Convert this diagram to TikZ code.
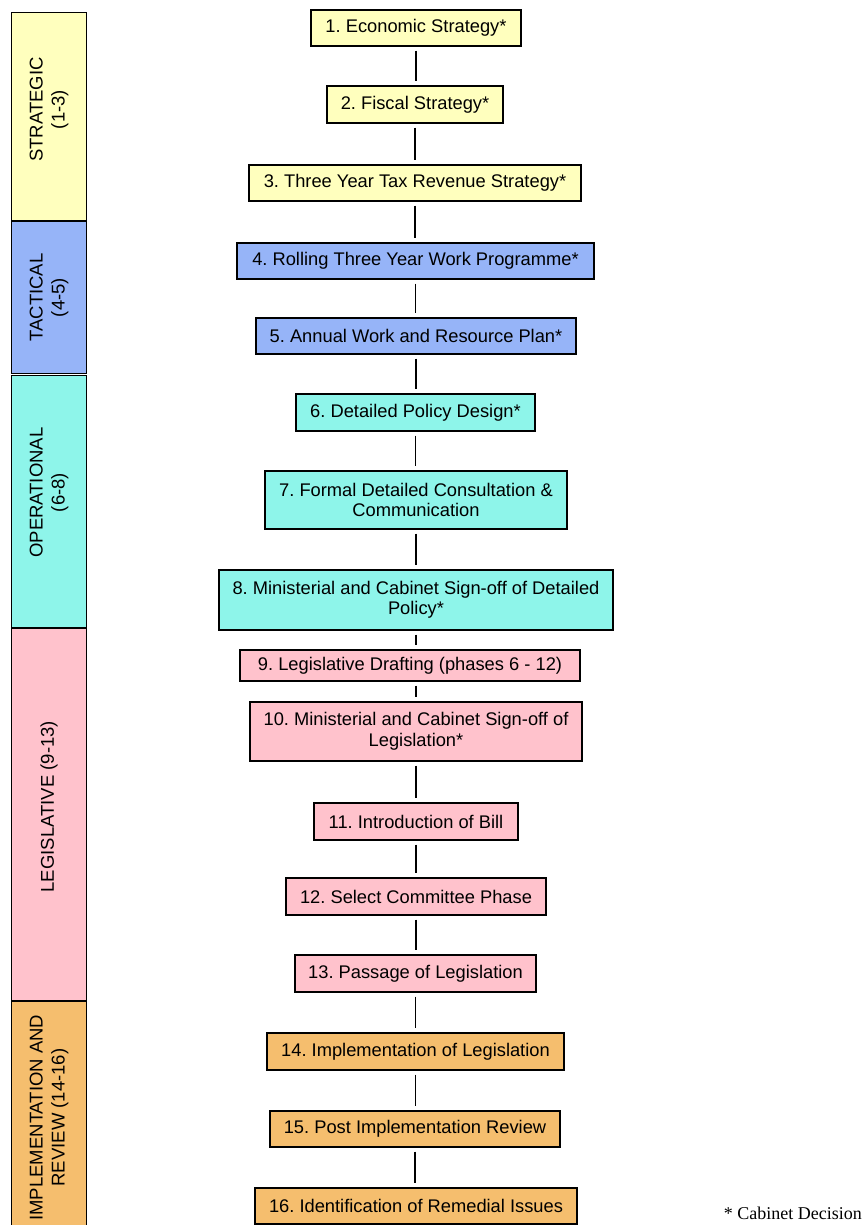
\documentclass[tikz,border=0pt]{standalone}
\usepackage{fontspec}
\setmainfont{Liberation Sans}
\newfontfamily\serifcap{Liberation Serif}
\usetikzlibrary{calc}
\frenchspacing
\definecolor{cYel}{RGB}{255,255,190}
\definecolor{cBlu}{RGB}{150,180,248}
\definecolor{cCya}{RGB}{142,245,234}
\definecolor{cPnk}{RGB}{255,194,204}
\definecolor{cOrg}{RGB}{245,190,110}
\begin{document}
\begin{tikzpicture}[x=1pt,y=-1pt,
  box/.style={draw=black, line width=1.2pt, align=center, inner sep=0pt, font=\fontsize{18.3}{20.5}\selectfont},
  band/.style={draw=black, line width=1.2pt, minimum width=75pt, inner sep=0pt, anchor=north west},
  bandtxt/.style={rotate=90, align=center, font=\fontsize{18.5}{22}\selectfont},
  link/.style={line width=1.2pt, shorten >=4pt, shorten <=4pt}]
\useasboundingbox (0,0) rectangle (866,1225);
% side bands
\node[band, fill=cYel, minimum height=208pt] (b1) at (11,12) {};
\node[band, fill=cBlu, minimum height=152pt] (b2) at (11,221) {};
\node[band, fill=cCya, minimum height=252pt] (b3) at (11,375) {};
\node[band, fill=cPnk, minimum height=372pt] (b4) at (11,628) {};
\node[band, fill=cOrg, minimum height=224pt] (b5) at (11,1001) {};
\node[bandtxt] (t1) at ($(b1.center)+(0,-7)$) {STRATEGIC\\(1-3)};
\node[bandtxt] (t2) at (b2.center) {TACTICAL\\(4-5)};
\node[bandtxt] (t3) at ($(b3.center)+(0,-9)$) {OPERATIONAL\\(6-8)};
\node[bandtxt] (t4) at ($(b4.center)+(0,-8)$) {LEGISLATIVE (9-13)};
\node[bandtxt] (t5) at ($(b5.center)+(0,4)$) {IMPLEMENTATION AND\\REVIEW (14-16)};
% boxes
\node[box, fill=cYel, minimum width=210pt, minimum height=36pt] (n1) at (416,28) {1. Economic Strategy*};
\node[box, fill=cYel, minimum width=176pt, minimum height=37pt] (n2) at (415,104.5) {2. Fiscal Strategy*};
\node[box, fill=cYel, minimum width=332pt, minimum height=36pt] (n3) at (415,183) {3. Three Year Tax Revenue Strategy*};
\node[box, fill=cBlu, minimum width=357pt, minimum height=36pt] (n4) at (415.5,261) {4. Rolling Three Year Work Programme*};
\node[box, fill=cBlu, minimum width=320pt, minimum height=36pt] (n5) at (416,336) {5. Annual Work and Resource Plan*};
\node[box, fill=cCya, minimum width=239pt, minimum height=37pt] (n6) at (415.5,412.5) {6. Detailed Policy Design*};
\node[box, fill=cCya, minimum width=302pt, minimum height=58pt] (n7) at (416,500) {7. Formal Detailed Consultation \&\\Communication};
\node[box, fill=cCya, minimum width=394pt, minimum height=60pt] (n8) at (416,600) {8. Ministerial and Cabinet Sign-off of Detailed\\Policy*};
\node[box, fill=cPnk, minimum width=340pt, minimum height=31pt] (n9) at (410,665.5) {9. Legislative Drafting (phases 6 - 12)};
\node[box, fill=cPnk, minimum width=332pt, minimum height=59pt] (n10) at (416,731.5) {10. Ministerial and Cabinet Sign-off of\\Legislation*};
\node[box, fill=cPnk, minimum width=204pt, minimum height=37pt] (n11) at (416,821.5) {11. Introduction of Bill};
\node[box, fill=cPnk, minimum width=260pt, minimum height=37pt] (n12) at (416,896.5) {12. Select Committee Phase};
\node[box, fill=cPnk, minimum width=241pt, minimum height=37pt] (n13) at (415.5,973.5) {13. Passage of Legislation};
\node[box, fill=cOrg, minimum width=297pt, minimum height=37pt] (n14) at (415.5,1051.5) {14. Implementation of Legislation};
\node[box, fill=cOrg, minimum width=290pt, minimum height=36pt] (n15) at (415,1129) {15. Post Implementation Review};
\node[box, fill=cOrg, minimum width=322pt, minimum height=36pt] (n16) at (416,1206) {16. Identification of Remedial Issues};
% connectors
\foreach \a/\b in {n1/n2,n2/n3,n3/n4,n4/n5,n5/n6,n6/n7,n7/n8,n11/n12,n12/n13,n13/n14,n14/n15,n15/n16}
  \draw[link] (\a.south) -- (\a.south |- \b.north);
\draw[link] (n8.south) -- (n8.south |- n9.north);
\draw[link] (n8.south |- n9.south) -- (n8.south |- n10.north);
\draw[link] (n10.south) -- (n10.south |- n11.north);
% footnote
\node[anchor=base east, font=\serifcap\fontsize{18}{20}\selectfont, inner sep=0pt] (note) at (862,1219) {* Cabinet Decision};
\end{tikzpicture}
\end{document}
